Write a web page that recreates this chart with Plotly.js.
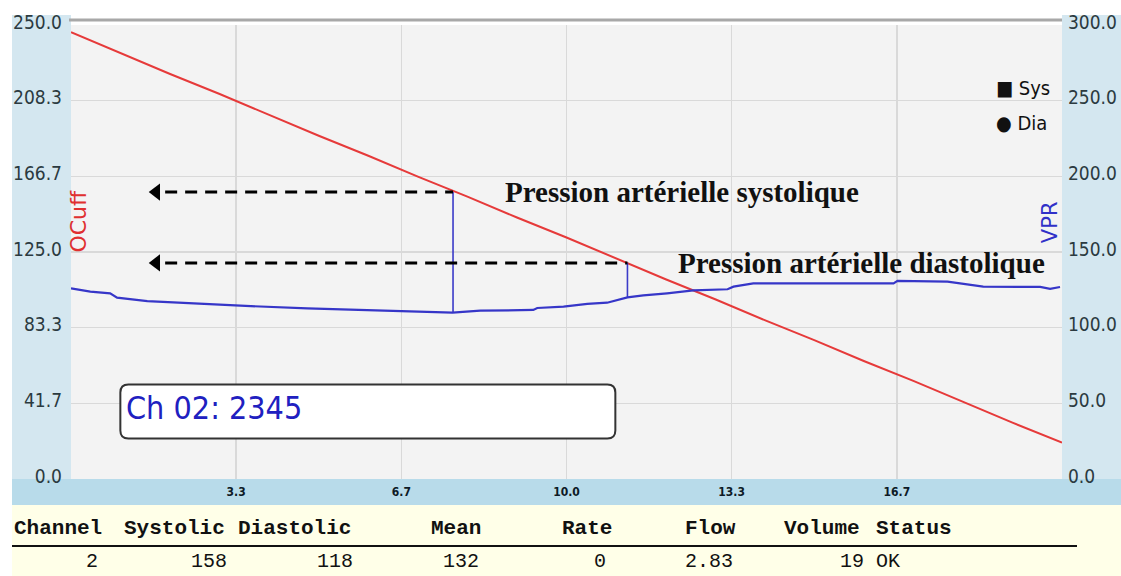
<!DOCTYPE html>
<html><head><meta charset="utf-8">
<script src="https://cdn.plot.ly/plotly-3.0.1.min.js"></script>
<style>html,body{margin:0;padding:0;background:#fff;overflow:hidden}#chart{width:1121px;height:576px}</style>
</head><body><div id="chart"></div>
<script>
// ---------- data ----------
const xTickVals = [3.333, 6.667, 10.0, 13.333, 16.667];
const xTickText = ["3.3", "6.7", "10.0", "13.3", "16.7"];
const leftTickVals = [0, 41.667, 83.333, 125, 166.667, 208.333, 250];
const leftTickText = ["0.0", "41.7", "83.3", "125.0", "166.7", "208.3", "250.0"];
const rightTickVals = [0, 50, 100, 150, 200, 250, 300];
const rightTickText = ["0.0", "50.0", "100.0", "150.0", "200.0", "250.0", "300.0"];

// OCuff (cuff pressure, left axis)
const cuffX = [0,1,2,3,4,5,6,7,8,9,10,11,12,13,14,15,16,17,18,19,20];
const cuffY = [246,234.5,223,212,200.5,189,178,166.5,155.5,144,133,121.5,110,99,87.5,76.5,65,54,42.5,31,20];

// VPR (right axis)
const vprX = [0,0.39,0.79,0.93,1.54,2.35,3.42,4.77,5.98,7.19,7.70,8.26,9.33,9.41,9.94,10.42,10.82,11.23,11.55,12.03,12.56,13.25,13.37,13.77,16.60,16.68,17.69,18.41,19.56,19.76,19.96];
const vprY = [126.0,123.8,122.7,119.8,117.6,116.1,114.5,112.8,111.7,110.2,109.9,111.2,111.7,113.0,113.9,115.7,116.5,120.0,121.3,122.7,124.6,125.4,127.1,129.3,129.3,130.9,130.4,127.1,126.9,125.6,126.9];

// systolic / diastolic markers (left-axis units)
const sysX = 7.71, sysBottom = 91.6, sysTop = 158;
const diaX = 11.23, diaBottom = 100.0, diaTop = 119;
const arrowTailX = 1.9, arrowHeadX = 1.72;

const sysLabel = "Pression artérielle systolique";
const diaLabel = "Pression artérielle diastolique";
const chLabel = "Ch 02: 2345";
const legendNames = ["Sys", "Dia"];
const leftAxisName = "OCuff", rightAxisName = "VPR";

const tableHeaders = ["Channel","Systolic","Diastolic","Mean","Rate","Flow","Volume","Status"];
const tableValues = ["2","158","118","132","0","2.83","19","OK"];

// ---------- layout helpers (pixel geometry) ----------
const W = 1121, H = 576, L = 71, R = 59, T = 25, B = 97;
const PW = W - L - R, PH = H - T - B;
const px = v => (v - L) / PW;           // pixel x -> paper x
const py = v => (H - B - v) / PH;       // pixel y -> paper y

const narrow = "DejaVu Sans Condensed, Liberation Sans Narrow, sans-serif";
const mono = "Liberation Mono, Courier New, DejaVu Sans Mono, monospace";

const traces = [
  {x: cuffX, y: cuffY, yaxis: 'y', mode: 'lines', line: {color: '#e63a3a', width: 2}, hoverinfo: 'skip'},
  {x: vprX, y: vprY, yaxis: 'y2', mode: 'lines', line: {color: '#3636c8', width: 2.2}, hoverinfo: 'skip'},
  {x: [sysX, sysX], y: [sysBottom, sysTop], yaxis: 'y', mode: 'lines', line: {color: '#3b3bc8', width: 1.6}},
  {x: [diaX, diaX], y: [diaBottom, diaTop], yaxis: 'y', mode: 'lines', line: {color: '#3b3bc8', width: 1.6}},
  {x: [arrowHeadX, arrowHeadX], y: [sysTop, diaTop], yaxis: 'y', mode: 'markers',
   marker: {symbol: 'triangle-left', size: 15, color: '#000'}}
];

const shapes = [
  // panels
  {type:'rect', xref:'paper', yref:'paper', x0:px(12), x1:px(71), y0:py(505), y1:py(15), fillcolor:'#d4e7f0', line:{width:0}, layer:'below'},
  {type:'rect', xref:'paper', yref:'paper', x0:px(1062), x1:px(1121), y0:py(505), y1:py(15), fillcolor:'#d4e7f0', line:{width:0}, layer:'below'},
  {type:'rect', xref:'paper', yref:'paper', x0:px(12), x1:px(1121), y0:py(505), y1:py(479), fillcolor:'#b8dbea', line:{width:0}, layer:'below'},
  {type:'rect', xref:'paper', yref:'paper', x0:px(12), x1:px(1121), y0:py(576), y1:py(505), fillcolor:'#ffffe8', line:{width:0}, layer:'below'},
  {type:'line', xref:'paper', yref:'paper', x0:px(69), x1:px(1062), y0:py(20), y1:py(20), line:{color:'#a8a8a8', width:3}, layer:'below'},
  // table rule
  {type:'line', xref:'paper', yref:'paper', x0:px(12), x1:px(1077), y0:py(546), y1:py(546), line:{color:'#111', width:2}},
  // dashed arrows
  {type:'line', xref:'x', yref:'y', x0:arrowTailX, x1:sysX, y0:sysTop, y1:sysTop, line:{color:'#000', width:3, dash:'12px,8px'}},
  {type:'line', xref:'x', yref:'y', x0:arrowTailX, x1:diaX, y0:diaTop, y1:diaTop, line:{color:'#000', width:3, dash:'12px,8px'}},
  // rounded box
  {type:'path', xref:'x', yref:'y', xsizemode:'pixel', ysizemode:'pixel', xanchor:0.996, yanchor:52,
   path:'M 8,0 L 487,0 Q 495,0 495,-8 L 495,-46 Q 495,-54 487,-54 L 8,-54 Q 0,-54 0,-46 L 0,-8 Q 0,0 8,0 Z',
   fillcolor:'#ffffff', line:{color:'#333', width:2}},
  // white clip at the top
  {type:'rect', xref:'paper', yref:'paper', x0:-0.1, x1:1.1, y0:py(15), y1:py(-5), fillcolor:'#ffffff', line:{width:0}, layer:'above'}
];

const annotations = [
  {xref:'x', yref:'y', x:8.72, y:sysTop, xanchor:'left', yanchor:'middle', showarrow:false,
   text:'<b>'+sysLabel+'</b>', font:{family:'Liberation Serif, Times New Roman, serif', size:29, color:'#111'}},
  {xref:'x', yref:'y', x:12.2, y:diaTop, xanchor:'left', yanchor:'middle', showarrow:false,
   text:'<b>'+diaLabel+'</b>', font:{family:'Liberation Serif, Times New Roman, serif', size:29, color:'#111'}},
  {xref:'x', yref:'y', x:1.075, y:39.1, xanchor:'left', yanchor:'middle', showarrow:false,
   text:chLabel, font:{family:narrow, size:32, color:'#2020c0'}},
  {xref:'x', yref:'y', x:0.15, y:142, textangle:-90, showarrow:false,
   text:leftAxisName, font:{family:'DejaVu Sans, sans-serif', size:22, color:'#e03030'}},
  {xref:'x', yref:'y', x:19.76, y:141.5, textangle:-90, showarrow:false,
   text:rightAxisName, font:{family:'DejaVu Sans, sans-serif', size:21, color:'#3030c8'}},
  {xref:'x', yref:'y', x:19.8, y:215.3, xanchor:'right', yanchor:'middle', showarrow:false,
   text:'■ '+legendNames[0], font:{family:narrow, size:20, color:'#111'}},
  {xref:'x', yref:'y', x:19.74, y:196, xanchor:'right', yanchor:'middle', showarrow:false,
   text:'● '+legendNames[1], font:{family:narrow, size:20, color:'#111'}}
];

const headerLeft = [12, 122, 236, 429, 560, 683, 782, 874];
tableHeaders.forEach((h, i) => annotations.push({
  xref:'paper', yref:'paper', x:px(headerLeft[i]), y:py(528), xanchor:'left', yanchor:'middle', showarrow:false,
  text:'<b>'+h+'</b>', font:{family:mono, size:21, color:'#111'}}));
const valueRight = [100, 229, 355, 481, 608, 735, 866, 874];
tableValues.forEach((v, i) => annotations.push({
  xref:'paper', yref:'paper', x:px(valueRight[i]), y:py(561), xanchor: i === 7 ? 'left' : 'right', yanchor:'middle', showarrow:false,
  text:v, font:{family:mono, size:20, color:'#111'}}));

const layout = {
  width: W, height: H,
  margin: {l: L, r: R, t: T, b: B, pad: 0},
  paper_bgcolor: '#ffffff', plot_bgcolor: '#f3f3f3',
  showlegend: false,
  xaxis: {range: [0, 20], tickvals: xTickVals, ticktext: xTickText, showgrid: true, gridcolor: '#d9d9d9', gridwidth: 1.5,
          zeroline: false, showline: false, ticks: '', ticklabelstandoff: 4,
          tickfont: {family: narrow, size: 12, color: '#0d1a26', weight: 'bold'}},
  yaxis: {range: [0, 250], tickvals: leftTickVals, ticktext: leftTickText, showgrid: true, gridcolor: '#d9d9d9', gridwidth: 1.5,
          zeroline: false, showline: false, ticks: '', ticklabelstandoff: 8, ticklabelshift: -3,
          tickfont: {family: narrow, size: 19, color: '#2b3a40'}},
  yaxis2: {range: [0, 300], overlaying: 'y', side: 'right', tickvals: rightTickVals, ticktext: rightTickText,
           showgrid: false, zeroline: false, showline: false, ticks: '', ticklabelstandoff: 5, ticklabelshift: -3,
           tickfont: {family: narrow, size: 19, color: '#2b3a40'}},
  shapes: shapes,
  annotations: annotations
};

Plotly.newPlot('chart', traces, layout, {displayModeBar: false, staticPlot: true});
</script>
</body></html>
